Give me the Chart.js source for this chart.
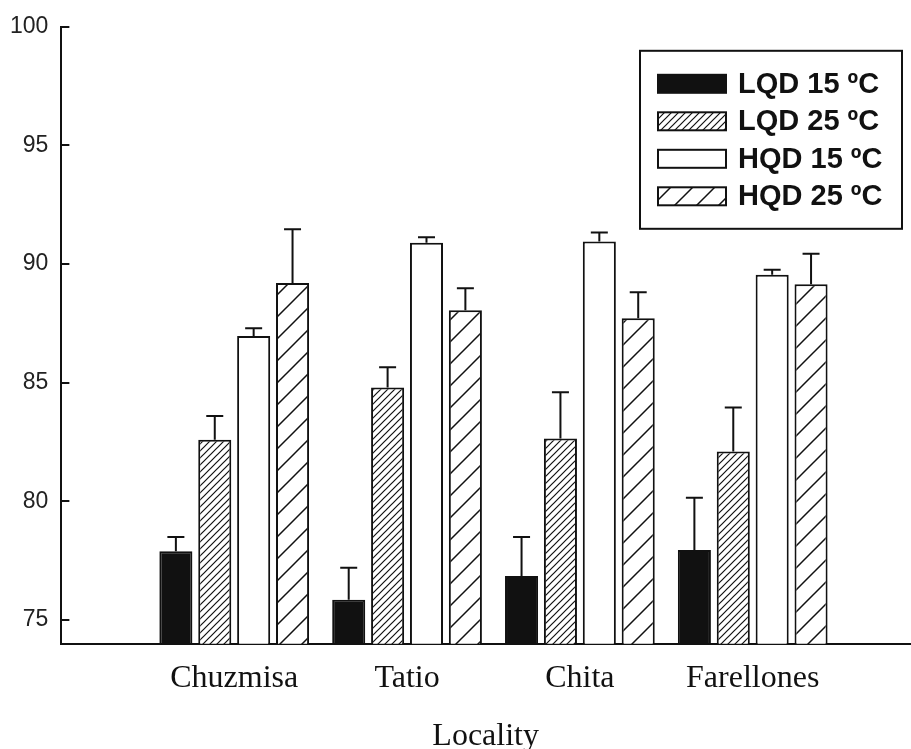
<!DOCTYPE html>
<html>
<head>
<meta charset="utf-8">
<script src="https://cdn.jsdelivr.net/npm/chart.js@4.4.0/dist/chart.umd.min.js"></script>
<style>
  body { margin: 0; background: #fff; }
</style>
</head>
<body>
<canvas id="myChart" width="911" height="749"></canvas>
<script>
// localities and means
var localities = ['Chuzmisa', 'Tatio', 'Chita', 'Farellones'];
var yTicks = [75, 80, 85, 90, 95, 100];

var lqd15 = [77.9, 75.85, 76.85, 77.95];
var lqd15Err = [0.6, 1.35, 1.65, 2.2];
var lqd25 = [82.6, 84.8, 82.65, 82.1];
var lqd25Err = [1.0, 0.85, 1.95, 1.85];
var hqd15 = [86.97, 90.9, 90.95, 89.55];
var hqd15Err = [0.33, 0.23, 0.38, 0.21];
var hqd25 = [89.2, 88.05, 87.72, 89.15];
var hqd25Err = [2.27, 0.93, 1.09, 1.28];

var ctx = document.getElementById('myChart').getContext('2d');

function makeHatch(size, lw){
	var c = document.createElement('canvas');
	c.width = size;
	c.height = size;
	var g = c.getContext('2d');
	g.fillStyle = '#fff';
	g.fillRect(0, 0, size, size);
	g.strokeStyle = '#111';
	g.lineWidth = lw;
	g.beginPath();
	g.moveTo(0, size); g.lineTo(size, 0);
	g.moveTo(-2, 2); g.lineTo(2, -2);
	g.moveTo(size-2, size+2); g.lineTo(size+2, size-2);
	g.stroke();
	return ctx.createPattern(c, 'repeat');
}

function toPoints(arr){
	var pts = [];
	for(var i in arr){
		pts.push({x: Number(i) + 1, y: arr[i]});
	}
	return pts;
}

var denseHatch = makeHatch(7, 1.2);
var sparseHatch = makeHatch(22, 1.5);

// upward error bars with a cap
var errorBars = {
	id: 'errorBars',
	afterDatasetsDraw: function(chart){
		var c = chart.ctx;
		var yScale = chart.scales.y;
		c.save();
		c.strokeStyle = '#111';
		c.lineWidth = 2;
		chart.data.datasets.forEach(function(ds, di){
			var meta = chart.getDatasetMeta(di);
			meta.data.forEach(function(bar, i){
				var top = yScale.getPixelForValue(ds.data[i].y + ds.errors[i]);
				c.beginPath();
				c.moveTo(bar.x, bar.y);
				c.lineTo(bar.x, top);
				c.moveTo(bar.x - 8.5, top);
				c.lineTo(bar.x + 8.5, top);
				c.stroke();
			});
		});
		c.restore();
	}
};

// tick marks pointing into the plot
var innerTicks = {
	id: 'innerTicks',
	afterDraw: function(chart){
		var c = chart.ctx;
		var yScale = chart.scales.y;
		var left = chart.chartArea.left;
		c.save();
		c.strokeStyle = '#111';
		c.lineWidth = 2;
		yScale.ticks.forEach(function(t){
			var y = Math.round(yScale.getPixelForValue(t.value));
			c.beginPath();
			c.moveTo(left, y);
			c.lineTo(left + 8, y);
			c.stroke();
		});
		c.restore();
	}
};

// boxed legend in the top right corner
var boxLegend = {
	id: 'boxLegend',
	afterDraw: function(chart){
		var c = chart.ctx;
		var area = chart.chartArea;
		var bx = area.right - 270, by = area.top + 24, bw = 262, bh = 178;
		c.save();
		c.fillStyle = '#fff';
		c.fillRect(bx, by, bw, bh);
		c.strokeStyle = '#111';
		c.lineWidth = 2;
		c.strokeRect(bx, by, bw, bh);
		c.font = 'bold 29px "Liberation Sans", Arial, sans-serif';
		c.textBaseline = 'middle';
		chart.data.datasets.forEach(function(ds, i){
			var cy = by + 33 + i * 37.5;
			c.fillStyle = ds.backgroundColor;
			c.fillRect(bx + 18, cy - 9, 68, 18);
			c.lineWidth = 2;
			c.strokeRect(bx + 18, cy - 9, 68, 18);
			c.fillStyle = '#111';
			c.fillText(ds.label, bx + 98, cy + 1);
		});
		c.restore();
	}
};

var chartdata = {
	datasets: [
		{label: 'LQD 15 ºC', data: toPoints(lqd15), errors: lqd15Err, backgroundColor: '#111', borderColor: '#111', borderWidth: 2},
		{label: 'LQD 25 ºC', data: toPoints(lqd25), errors: lqd25Err, backgroundColor: denseHatch, borderColor: '#111', borderWidth: 2},
		{label: 'HQD 15 ºC', data: toPoints(hqd15), errors: hqd15Err, backgroundColor: '#fff', borderColor: '#111', borderWidth: 2},
		{label: 'HQD 25 ºC', data: toPoints(hqd25), errors: hqd25Err, backgroundColor: sparseHatch, borderColor: '#111', borderWidth: 2}
	]
};

var barGraph = new Chart(ctx, {
	type: 'bar',
	data: chartdata,
	plugins: [errorBars, innerTicks, boxLegend],
	options: {
		responsive: false,
		animation: false,
		devicePixelRatio: 1,
		categoryPercentage: 0.9,
		barPercentage: 0.85,
		layout: {padding: {left: -3, top: 24, right: 1, bottom: -6.5}},
		plugins: {legend: {display: false}, tooltip: {enabled: false}},
		scales: {
			x: {
				type: 'linear',
				offset: false,
				min: 0,
				max: 4.91,
				grid: {display: false, drawTicks: false, offset: false},
				border: {display: true, color: '#111', width: 2},
				ticks: {
					stepSize: 1,
					includeBounds: false,
					autoSkip: false,
					maxRotation: 0,
					padding: 15.5,
					color: '#111',
					font: {family: '"Liberation Serif", "Times New Roman", serif', size: 32},
					callback: function(v){
						return localities[v - 1] || '';
					}
				},
				title: {
					display: true,
					text: 'Locality',
					color: '#111',
					padding: {top: 4, bottom: 0},
					font: {family: '"Liberation Serif", "Times New Roman", serif', size: 32}
				}
			},
			y: {
				min: 74,
				max: 100,
				grid: {display: false, drawTicks: false},
				border: {display: true, color: '#111', width: 2},
				afterBuildTicks: function(axis){
					axis.ticks = yTicks.map(function(v){ return {value: v}; });
				},
				ticks: {
					padding: 13,
					color: '#222',
					font: {family: '"Liberation Sans", Arial, sans-serif', size: 23}
				}
			}
		}
	}
});
</script>
</body>
</html>
